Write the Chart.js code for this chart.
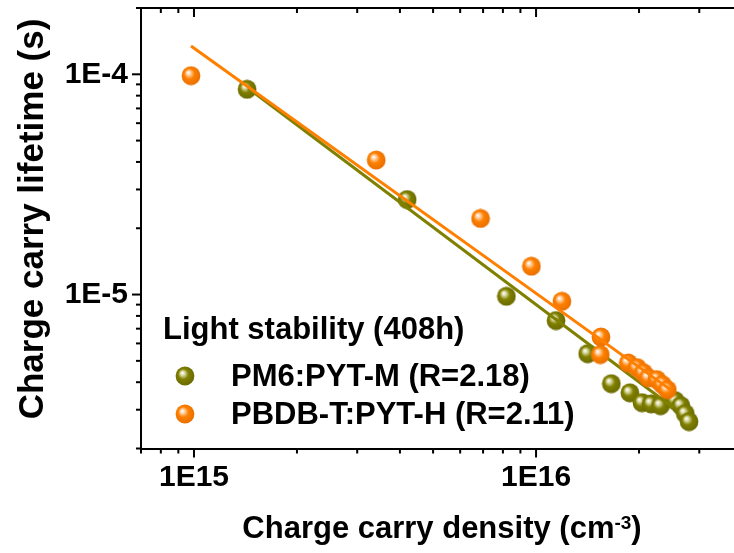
<!DOCTYPE html>
<html>
<head>
<meta charset="utf-8">
<script src="https://cdn.jsdelivr.net/npm/chart.js@4.4.1/dist/chart.umd.min.js"></script>
<style>
  html, body { margin: 0; padding: 0; background: #fff; }
  #wrap { width: 734px; height: 553px; }
</style>
</head>
<body>
<div id="wrap"><canvas id="chart" width="734" height="553"></canvas></div>
<script>
// Charge carry density (cm^-3) vs lifetime (s), light stability 408h
const pm6Density  = [1.43e15, 4.20e15, 8.19e15, 1.144e16, 1.415e16, 1.66e16, 1.88e16, 2.04e16, 2.17e16, 2.31e16, 2.55e16, 2.65e16, 2.73e16, 2.80e16];
const pm6Lifetime = [8.55e-5, 2.70e-5, 9.82e-6, 7.62e-6, 5.39e-6, 3.94e-6, 3.58e-6, 3.23e-6, 3.19e-6, 3.13e-6, 3.30e-6, 3.13e-6, 2.88e-6, 2.65e-6];

const pbdbDensity  = [9.8e14, 3.41e15, 6.88e15, 9.69e15, 1.19e16, 1.548e16, 1.541e16, 1.86e16, 1.975e16, 2.06e16, 2.13e16, 2.255e16, 2.34e16, 2.42e16];
const pbdbLifetime = [9.86e-5, 4.08e-5, 2.215e-5, 1.345e-5, 9.32e-6, 6.42e-6, 5.34e-6, 4.89e-6, 4.66e-6, 4.42e-6, 4.19e-6, 4.11e-6, 3.90e-6, 3.70e-6];

// linear fits (log-log), start and end of each fitted line
const pm6FitDensity   = [1.44e15, 2.52e16];
const pm6FitLifetime  = [8.64e-5, 3.06e-6];
const pbdbFitDensity  = [9.8e14, 2.47e16];
const pbdbFitLifetime = [1.345e-4, 3.70e-6];

const xRange = [7e14, 3.79e16];
const yRange = [2e-6, 2e-4];
const seriesNames = ['PM6:PYT-M (R=2.18)', 'PBDB-T:PYT-H (R=2.11)'];
const legendTitle = 'Light stability (408h)';

const OLIVE = '#808000';
const ORANGE = '#ff8000';
const FONT = "'Liberation Sans', Arial, sans-serif";

// shaded ball marker like the original plot
function makeBall(light, base, dark) {
    const c = document.createElement('canvas');
    c.width = c.height = 20;
    const g = c.getContext('2d');
    const grad = g.createRadialGradient(7.2, 6.8, 0.3, 9.5, 9.5, 10);
    grad.addColorStop(0, '#ffffff');
    grad.addColorStop(0.2, light);
    grad.addColorStop(0.5, base);
    grad.addColorStop(1, dark);
    g.fillStyle = grad;
    g.beginPath();
    g.arc(10, 10, 9.4, 0, Math.PI * 2);
    g.fill();
    return c;
}
const oliveBall = makeBall('#d8d8a0', OLIVE, '#6a6a00');
const orangeBall = makeBall('#ffd0a0', ORANGE, '#e87000');

const zip = (xs, ys) => xs.map((x, i) => ({ x: x, y: ys[i] }));

function mantissa(v) {
    const e = Math.floor(Math.log10(v) + 1e-9);
    return { m: v / Math.pow(10, e), e: e };
}
function isWhole(v) {
    const m = mantissa(v).m;
    return Math.abs(m - Math.round(m)) < 1e-6;
}
function decadeLabel(v) {
    const r = mantissa(v);
    return Math.abs(r.m - 1) < 1e-6 ? '1E' + r.e : '';
}

// axes ticks, titles and legend
const decorations = {
    id: 'decorations',
    afterDraw(chart) {
        const { ctx, chartArea: a, scales: { x, y } } = chart;
        ctx.save();
        ctx.strokeStyle = '#000';
        ctx.lineWidth = 2;

        // top frame line
        ctx.beginPath();
        ctx.moveTo(a.left - 1, a.top);
        ctx.lineTo(a.right, a.top);
        ctx.stroke();

        x.ticks.forEach(t => {
            if (!isWhole(t.value)) return;
            const len = Math.abs(mantissa(t.value).m - 1) < 1e-6 ? 9 : 5;
            const px = x.getPixelForValue(t.value);
            ctx.beginPath();
            ctx.moveTo(px, a.bottom);
            ctx.lineTo(px, a.bottom + len);
            ctx.moveTo(px, a.top);
            ctx.lineTo(px, a.top + len);
            ctx.stroke();
        });
        y.ticks.forEach(t => {
            if (!isWhole(t.value)) return;
            const len = Math.abs(mantissa(t.value).m - 1) < 1e-6 ? 9 : 5;
            const py = y.getPixelForValue(t.value);
            ctx.beginPath();
            ctx.moveTo(a.left - len, py);
            ctx.lineTo(a.left, py);
            ctx.stroke();
        });

        ctx.fillStyle = '#000';
        ctx.textBaseline = 'alphabetic';

        // y title
        ctx.save();
        ctx.translate(43, 219);
        ctx.rotate(-Math.PI / 2);
        ctx.font = 'bold 35px ' + FONT;
        ctx.textAlign = 'center';
        ctx.fillText('Charge carry lifetime (s)', 0, 0);
        ctx.restore();

        // x title with superscript
        const main = 'Charge carry density (cm';
        const sup = '-3';
        const tail = ')';
        ctx.font = 'bold 31px ' + FONT;
        const w1 = ctx.measureText(main).width;
        const w3 = ctx.measureText(tail).width;
        ctx.font = 'bold 19px ' + FONT;
        const w2 = ctx.measureText(sup).width;
        let tx = 442 - (w1 + w2 + w3) / 2;
        const base = 538;
        ctx.textAlign = 'left';
        ctx.font = 'bold 31px ' + FONT;
        ctx.fillText(main, tx, base);
        ctx.font = 'bold 19px ' + FONT;
        ctx.fillText(sup, tx + w1, base - 9);
        ctx.font = 'bold 31px ' + FONT;
        ctx.fillText(tail, tx + w1 + w2, base);

        // legend
        ctx.font = 'bold 31px ' + FONT;
        ctx.textBaseline = 'middle';
        ctx.fillText(legendTitle, 163, 330);
        const balls = [oliveBall, orangeBall];
        const rows = [377, 415];
        seriesNames.forEach((name, i) => {
            ctx.drawImage(balls[i], 175, rows[i] - 11);
            ctx.fillText(name, 231, rows[i]);
        });
        ctx.restore();
    }
};

const tickFont = { family: FONT, size: 30, weight: 'bold' };

new Chart(document.getElementById('chart'), {
    type: 'scatter',
    data: {
        datasets: [
            {
                label: seriesNames[1] + ' fit',
                data: zip(pbdbFitDensity, pbdbFitLifetime),
                showLine: true,
                borderColor: ORANGE,
                borderWidth: 3,
                pointRadius: 0,
                order: 0
            },
            {
                label: seriesNames[1],
                data: zip(pbdbDensity, pbdbLifetime),
                pointStyle: orangeBall,
                order: 1
            },
            {
                label: seriesNames[0] + ' fit',
                data: zip(pm6FitDensity, pm6FitLifetime),
                showLine: true,
                borderColor: OLIVE,
                borderWidth: 3,
                pointRadius: 0,
                order: 2
            },
            {
                label: seriesNames[0],
                data: zip(pm6Density, pm6Lifetime),
                pointStyle: oliveBall,
                order: 3
            }
        ]
    },
    options: {
        responsive: false,
        animation: false,
        layout: { autoPadding: false, padding: { top: 8, right: 0, left: 0, bottom: 0 } },
        plugins: {
            legend: { display: false },
            tooltip: { enabled: false }
        },
        scales: {
            x: {
                type: 'logarithmic',
                position: 'bottom',
                min: xRange[0],
                max: xRange[1],
                afterFit: s => {
                    s.height = 104.5;
                    s.paddingLeft = 0;
                    s.paddingRight = 0;
                },
                border: { display: true, color: '#000', width: 2 },
                grid: { display: true, drawOnChartArea: false, drawTicks: true, tickLength: 9, tickColor: 'rgba(0,0,0,0)' },
                ticks: {
                    autoSkip: false,
                    maxRotation: 0,
                    padding: 2,
                    color: '#000',
                    font: tickFont,
                    callback: v => decadeLabel(v)
                }
            },
            y: {
                type: 'logarithmic',
                min: yRange[0],
                max: yRange[1],
                afterFit: s => {
                    s.width = 141;
                    s.paddingTop = 0;
                    s.paddingBottom = 0;
                },
                border: { display: true, color: '#000', width: 2 },
                grid: { display: true, drawOnChartArea: false, drawTicks: true, tickLength: 9, tickColor: 'rgba(0,0,0,0)' },
                ticks: {
                    autoSkip: false,
                    padding: 4,
                    color: '#000',
                    font: tickFont,
                    callback: v => decadeLabel(v)
                }
            }
        }
    },
    plugins: [decorations]
});
</script>
</body>
</html>
